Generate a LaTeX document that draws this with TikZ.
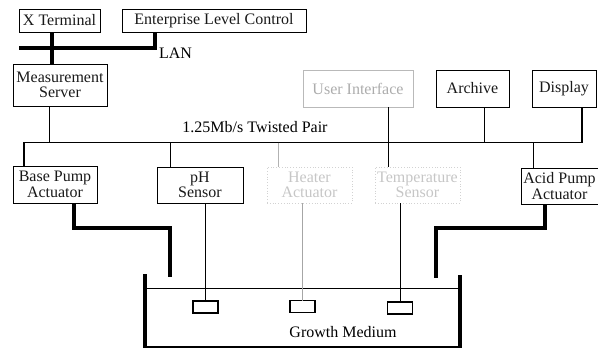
\documentclass[tikz,border=0pt]{standalone}
\usepackage{fontspec}
\setmainfont{Liberation Serif}
\begin{document}
\begin{tikzpicture}[x=1pt,y=-1pt,
  every node/.style={inner sep=0pt,outer sep=0pt,font=\fontsize{16}{15.5}\selectfont,align=center},
  unit/.style={draw,line width=0.9pt,text=black!90},
  faint/.style={draw=gray!55,line width=0.8pt,text=gray!65},
  ghost/.style={draw=gray!35,dotted,line width=0.8pt,text=gray!45},
  probe/.style={draw,line width=1.1pt,minimum width=25pt,minimum height=12pt},
  lan/.style={line width=4.5pt},
  bus/.style={line width=1.2pt},
  tap/.style={line width=1pt},
  pipe/.style={line width=3.8pt},
  wall/.style={line width=3.8pt}]
\useasboundingbox (0,0) rectangle (598,349);

% LAN level
\node[unit,minimum width=81pt,minimum height=23pt] (xterm) at (59.5,20.5) {X Terminal};
\node[unit,minimum width=184pt,minimum height=23pt] (ent) at (214,20.5) {Enterprise Level Control};
\node[unit,minimum width=94pt,minimum height=42pt] (ms) at (60,85) {Measurement\\Server};

\coordinate (lanL) at (19,48);
\coordinate (lanR) at (155,48);
\coordinate (lanX) at (52,48);
\draw[lan] (lanL) -- (lanR) -- (lanR |- ent.south);
\draw[lan] (xterm.south -| lanX) -- (ms.north -| lanX);
\node[anchor=west] (lanlbl) at (159,53) {LAN};

% upper devices on the field bus
\node[faint,minimum width=110pt,minimum height=37pt] (ui) at (358,88.5) {User Interface};
\node[unit,minimum width=73pt,minimum height=37pt] (arch) at (472.5,88.5) {Archive};
\node[unit,minimum width=64pt,minimum height=37pt] (disp) at (564,88.5) {Display};

% lower devices on the field bus
\node[unit,minimum width=84pt,minimum height=37pt] (base) at (55,184.5) {Base Pump\\Actuator};
\node[unit,minimum width=86pt,minimum height=36pt] (ph) at (200,185) {pH\\Sensor};
\node[ghost,minimum width=85pt,minimum height=36pt] (heat) at (309.5,185) {Heater\\Actuator};
\node[ghost,minimum width=85pt,minimum height=36pt] (temp) at (417.5,185) {Temperature\\Sensor};
\node[unit,minimum width=77pt,minimum height=36pt] (acid) at (559.5,186) {Acid Pump\\Actuator};

% twisted pair bus
\coordinate (busL) at (24,142.5);
\coordinate (busR) at (582,142.5);
\coordinate (tMS) at (49,142.5);
\coordinate (tPH) at (170,142.5);
\coordinate (tHT) at (278,142.5);
\coordinate (tUI) at (388,142.5);
\coordinate (tAR) at (484,142.5);
\coordinate (tAC) at (533,142.5);
\draw[bus] (base.north -| busL) -- (busL) -- (busR) -- (disp.south -| busR);
\node (buslbl) at (255,127) {1.25Mb/s Twisted Pair};
\draw[tap] (ms.south -| tMS) -- (tMS);
\draw[tap] (tPH) -- (ph.north -| tPH);
\draw[tap,gray!60] (tHT) -- (heat.north -| tHT);
\draw[tap] (ui.south -| tUI) -- (temp.north -| tUI);
\draw[tap] (arch.south -| tAR) -- (tAR);
\draw[tap] (tAC) -- (acid.north -| tAC);

% vessel with the growth medium
\draw[wall] (145,274) -- (145,348);
\draw[wall] (460,275) -- (460,348);
\draw[line width=2.2pt] (145,347) -- (460,347);
\draw[line width=0.8pt] (145,288) -- (460,288);
\node (medium) at (343,332) {Growth Medium};

% probes in the medium
\node[probe] (p1) at (205.5,307) {};
\node[probe] (p2) at (302.5,306.5) {};
\node[probe] (p3) at (400,308) {};
\draw[tap] (ph.south -| p1) -- (p1.north);
\draw[tap,gray!70] (heat.south -| p2) -- (p2.north);
\draw[tap] (temp.south -| p3) -- (p3.north);

% dosing lines from the pumps
\coordinate (bpTurn) at (74,228);
\coordinate (bpEnd) at (170,277);
\draw[pipe] (base.south -| bpTurn) -- (bpTurn) -| (bpEnd);
\coordinate (apTurn) at (545,228);
\coordinate (apEnd) at (436,278);
\draw[pipe] (acid.south -| apTurn) -- (apTurn) -| (apEnd);
\end{tikzpicture}
\end{document}
